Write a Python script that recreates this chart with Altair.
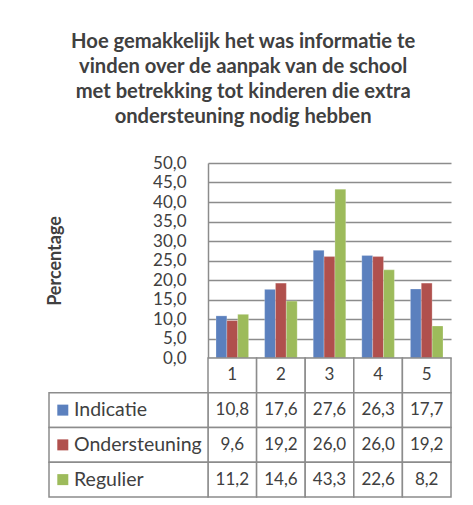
import altair as alt
import pandas as pd

categories = ["1", "2", "3", "4", "5"]
series = ["Indicatie", "Ondersteuning", "Regulier"]
indicatie = [10.8, 17.6, 27.6, 26.3, 17.7]
ondersteuning = [9.6, 19.2, 26.0, 26.0, 19.2]
regulier = [11.2, 14.6, 43.3, 22.6, 8.2]
y_ticks = [0, 5, 10, 15, 20, 25, 30, 35, 40, 45, 50]
title_lines = [
    "Hoe gemakkelijk het was informatie te",
    "vinden over de aanpak van de school",
    "met betrekking tot kinderen die extra",
    "ondersteuning nodig hebben",
]
y_title = "Percentage"
colors = ["#5b80be", "#b0504d", "#9dbb5b"]

FONT = "Lato"
TEXT = "#404040"
LINE = "#8c8c8c"

values = {"Indicatie": indicatie, "Ondersteuning": ondersteuning, "Regulier": regulier}


def fmt(v):
    return f"{v:.1f}".replace(".", ",")


bars_df = pd.DataFrame(
    [{"cat": c, "series": s, "value": v} for s in series for c, v in zip(categories, values[s])]
)
rows = ["h"] + series
table_records = [{"row": "h", "cat": c, "label": c} for c in categories]
for s in series:
    for c, v in zip(categories, values[s]):
        table_records.append({"row": s, "cat": c, "label": fmt(v)})
table_df = pd.DataFrame(table_records)
legend_df = pd.DataFrame({"row": series, "series": series, "lc": ["legend"] * len(series)})

color_enc = alt.Color("series:N", scale=alt.Scale(domain=series, range=colors), legend=None)

bars = alt.Chart(bars_df).mark_bar(stroke="white", strokeWidth=0.4, strokeOpacity=0.6).encode(
    x=alt.X("cat:N", scale=alt.Scale(domain=categories, paddingInner=0.33, paddingOuter=0.165), axis=None),
    xOffset=alt.XOffset("series:N", scale=alt.Scale(domain=series, paddingInner=0, paddingOuter=0)),
    y=alt.Y(
        "value:Q",
        scale=alt.Scale(domain=[0, 50], nice=False),
        axis=alt.Axis(
            values=y_ticks,
            labelExpr="replace(format(datum.value, '.1f'), '.', ',')",
            title=y_title,
            titleFontWeight="bold",
            titleFontSize=18,
            titleColor=TEXT,
            titlePadding=88,
            labelFontSize=17,
            labelColor=TEXT,
            labelPadding=22,
            ticks=False,
            domain=True,
            domainColor=LINE,
            domainWidth=1.5,
            grid=True,
            gridColor=LINE,
            gridWidth=1.5,
        ),
    ),
    color=color_enc,
).properties(width=243, height=195)

y_row = alt.Y("row:N", scale=alt.Scale(domain=rows, paddingInner=0, paddingOuter=0), axis=None)
x_tab = alt.X("cat:N", scale=alt.Scale(domain=categories, paddingInner=0, paddingOuter=0), axis=None)


def x_leg(rng):
    return alt.X(
        "lc:N",
        scale=alt.Scale(domain=["legend"], range=rng, paddingInner=0, paddingOuter=0),
        axis=None,
    )


cells = alt.Chart(table_df).mark_rect(fill="white", stroke=LINE, strokeWidth=1.5).encode(x=x_tab, y=y_row)
texts = alt.Chart(table_df).mark_text(font=FONT, fontSize=17, color=TEXT).encode(
    x=x_tab, y=y_row, text="label:N"
)
leg_cells = alt.Chart(legend_df).mark_rect(fill="white", stroke=LINE, strokeWidth=1.5).encode(
    x=x_leg([-159, 0]), y=y_row
)
swatches = alt.Chart(legend_df).mark_point(shape="square", filled=True, size=121, opacity=1).encode(
    x=x_leg([-150.7, -139.7]), y=y_row, color=color_enc
)
names = alt.Chart(legend_df).mark_text(font=FONT, fontSize=19.5, color=TEXT, align="left").encode(
    x=x_leg([-135, -133]), y=y_row, text="series:N"
)

table = (
    alt.layer(cells, leg_cells, texts, swatches, names)
    .resolve_scale(x="independent")
    .properties(width=243, height=139)
)

chart = (
    alt.vconcat(
        bars,
        table,
        spacing=0,
        bounds="flush",
        title=alt.TitleParams(
            text=title_lines,
            font=FONT,
            fontSize=20.2,
            fontWeight="bold",
            color=TEXT,
            lineHeight=25,
            anchor="middle",
            frame="bounds",
            dx=-6,
            offset=27,
        ),
    )
    .properties(padding={"left": 38, "top": 23, "right": 10, "bottom": 0})
    .configure_view(stroke=None)
    .configure_axis(labelFont=FONT, titleFont=FONT)
)

chart.save("out.html", embed_options={"renderer": "svg", "actions": False})
